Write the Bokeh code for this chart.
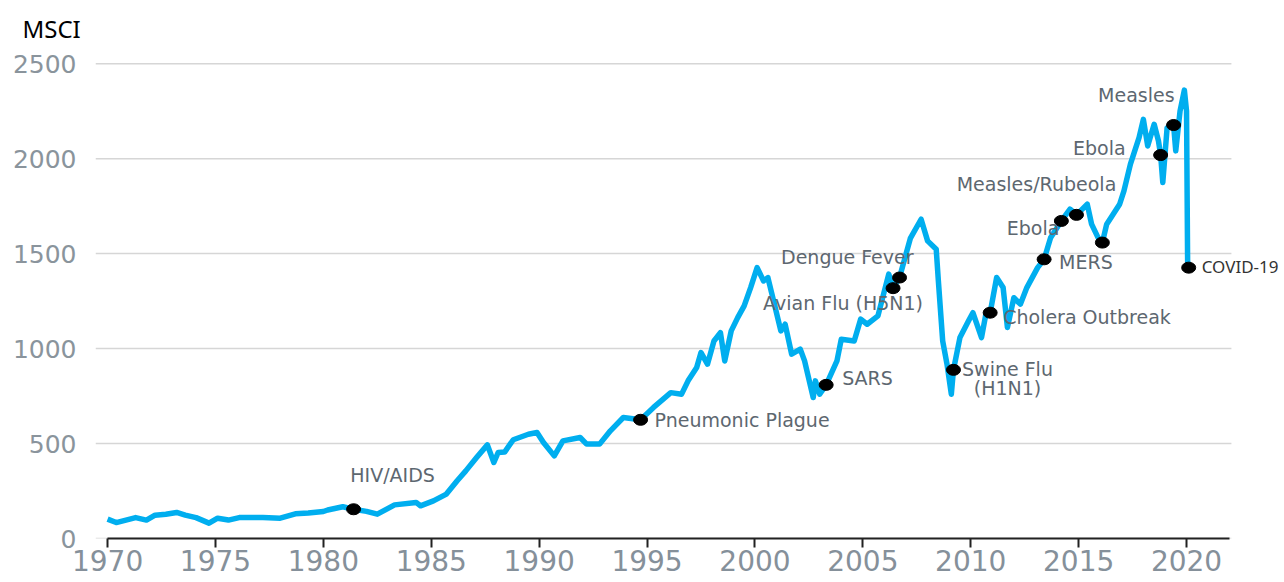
from bokeh.plotting import figure
from bokeh.models import ColumnDataSource, FixedTicker, Range1d
from bokeh.core.properties import value
from bokeh.embed import file_html
from bokeh.resources import INLINE

# ---- data ----
years = [1970.0, 1970.4, 1971.3, 1971.8, 1972.2, 1972.7, 1973.2, 1973.6, 1974.1, 1974.7,
         1975.1, 1975.6, 1976.1, 1977.2, 1978.0, 1978.7, 1979.3, 1980.0, 1980.2, 1980.9,
         1981.4, 1982.0, 1982.5, 1983.3, 1984.3, 1984.5, 1985.1, 1985.7, 1986.2, 1986.6,
         1987.1, 1987.6, 1987.9, 1988.1, 1988.4, 1988.8, 1989.5, 1989.9, 1990.2, 1990.7,
         1991.1, 1991.9, 1992.2, 1992.8, 1993.3, 1993.9, 1994.7, 1995.3, 1996.1, 1996.6,
         1996.9, 1997.3, 1997.5, 1997.8, 1998.1, 1998.4, 1998.6, 1998.9, 1999.2, 1999.5,
         1999.8, 2000.1, 2000.4, 2000.6, 2000.9, 2001.2, 2001.4, 2001.7, 2002.1, 2002.3,
         2002.7, 2002.8, 2003.0, 2003.3, 2003.8, 2004.0, 2004.6, 2004.9, 2005.2, 2005.7,
         2006.2, 2006.4, 2006.7, 2007.2, 2007.7, 2008.0, 2008.4, 2008.5, 2008.7, 2008.9,
         2009.1, 2009.2, 2009.5, 2009.9, 2010.1, 2010.5, 2010.7, 2010.9, 2011.2, 2011.5,
         2011.7, 2012.0, 2012.3, 2012.6, 2013.1, 2013.4, 2013.7, 2014.2, 2014.6, 2014.9,
         2015.4, 2015.6, 2015.9, 2016.1, 2016.3, 2016.6, 2016.9, 2017.1, 2017.4, 2017.8,
         2018.0, 2018.2, 2018.5, 2018.7, 2018.8, 2018.9, 2019.1, 2019.4, 2019.5, 2019.7,
         2019.9, 2020.0, 2020.05, 2020.1]
msci = [102, 84, 110, 97, 123, 128, 137, 123, 110, 81,
        107, 97, 110, 110, 107, 130, 134, 142, 150, 167,
        154, 143, 128, 177, 190, 172, 198, 234, 304, 356,
        426, 493, 400, 453, 455, 520, 549, 558, 505, 435,
        514, 532, 497, 497, 567, 637, 625, 690, 768, 760,
        830, 900, 979, 918, 1040, 1084, 935, 1093, 1163, 1225,
        1321, 1426, 1356, 1374, 1234, 1093, 1128, 971, 997, 935,
        742, 830, 760, 809, 935, 1049, 1040, 1155, 1128, 1172,
        1392, 1318, 1374, 1580, 1681, 1567, 1523, 1356, 1040, 918,
        760, 888, 1058, 1146, 1189, 1058, 1181, 1189, 1374, 1321,
        1111, 1268, 1234, 1321, 1426, 1470, 1584, 1672, 1734, 1704,
        1760, 1655, 1584, 1558, 1655, 1707, 1760, 1830, 1971, 2111,
        2207, 2067, 2181, 2093, 2019, 1874, 2163, 2177, 2041, 2251,
        2361, 2251, 1461, 1426]

event_names = ["HIV/AIDS", "Pneumonic Plague", "SARS", "Avian Flu (H5N1)", "Dengue Fever",
               "Swine Flu\n(H1N1)", "Cholera Outbreak", "MERS", "Ebola", "Measles/Rubeola",
               "", "Ebola", "Measles", "COVID-19"]
event_years = [1981.4, 1994.7, 2003.3, 2006.4, 2006.7, 2009.2, 2010.9, 2013.4, 2014.2, 2014.9,
               2016.1, 2018.8, 2019.4, 2020.1]
event_values = [154, 625, 809, 1318, 1374, 888, 1189, 1470, 1672, 1704,
                1558, 2019, 2177, 1426]

x_ticks = [1970, 1975, 1980, 1985, 1990, 1995, 2000, 2005, 2010, 2015, 2020]
y_ticks = [0, 500, 1000, 1500, 2000, 2500]
y_title = "MSCI"

# ---- label styling: (align, dx px, dy px) per event ----
label_style = [("center", 39, -34), ("left", 14, 0), ("left", 16, -7), ("center", -50, 15),
               ("right", 14, -21), ("center", 54, -1), ("left", 13, 4), ("left", 15, 3),
               ("right", -2, 7), ("center", -40, -31), ("left", 0, 0), ("right", -35, -7),
               ("right", 1, -30), ("left", 13, -1)]

X0, X_GRID_END, X1 = 1969.44, 2022.08, 2024.54

p = figure(width=1284, height=582,
           x_range=Range1d(X0, X1), y_range=Range1d(0, 2580),
           output_backend="svg", toolbar_location=None,
           min_border_left=95, min_border_right=0, min_border_top=48, min_border_bottom=44)
p.outline_line_color = None
p.background_fill_color = "white"
p.border_fill_color = "white"

p.title.text = y_title
p.title.align = "left"
p.title.offset = -73
p.title.standoff = 8
p.title.text_font = "Noto Sans"
p.title.text_font_size = "24px"
p.title.text_font_style = "normal"
p.title.text_color = "black"

# horizontal grid lines, limited to the original plot width
p.xgrid.visible = False
p.ygrid.visible = False
p.segment(x0=[X0] * len(y_ticks), x1=[X_GRID_END] * len(y_ticks), y0=y_ticks, y1=y_ticks,
          line_color="#d6d6d6", line_width=1.5)

xa = p.xaxis[0]
xa.ticker = FixedTicker(ticks=x_ticks)
xa.bounds = (1970, 2022)
xa.axis_line_color = "#222222"
xa.axis_line_width = 2
xa.major_tick_line_color = "#222222"
xa.major_tick_line_width = 2
xa.major_tick_out = 9
xa.major_tick_in = 0
xa.minor_tick_line_color = None
xa.major_label_text_font = "DejaVu Sans"
xa.major_label_text_font_size = "28px"
xa.major_label_text_color = "#85909a"
xa.major_label_standoff = 2

ya = p.yaxis[0]
ya.ticker = FixedTicker(ticks=y_ticks)
ya.axis_line_color = None
ya.major_tick_line_color = None
ya.minor_tick_line_color = None
ya.major_tick_out = 0
ya.major_tick_in = 0
ya.major_label_text_font = "DejaVu Sans"
ya.major_label_text_font_size = "25px"
ya.major_label_text_color = "#8a949c"
ya.major_label_standoff = 19

p.line(years, msci, line_color="#00aeef", line_width=5.5, line_join="round")
p.ellipse(x=event_years, y=event_values, width=14, height=11,
          width_units="screen", height_units="screen", color="black")

# labels
for align in ("left", "right", "center"):
    xs, ys, ts, dxs, dys = [], [], [], [], []
    for i, name in enumerate(event_names):
        if not name or name == "COVID-19":
            continue
        a, dx, dy = label_style[i]
        if a != align:
            continue
        for k, line in enumerate(name.split("\n")):
            xs.append(event_years[i]); ys.append(event_values[i]); ts.append(line)
            dxs.append(dx); dys.append(dy + 19 * k)
    if not xs:
        continue
    src = ColumnDataSource(dict(x=xs, y=ys, text=ts, dx=dxs, dy=dys))
    p.text(x="x", y="y", text="text", x_offset="dx", y_offset="dy", source=src,
           text_align=align, text_baseline="middle",
           text_font=value("DejaVu Sans"), text_font_size="19px", text_color="#5d6770")

ci = event_names.index("COVID-19")
a, dx, dy = label_style[ci]
p.text(x=[event_years[ci]], y=[event_values[ci]], text=[event_names[ci]],
       x_offset=dx, y_offset=dy, text_align=a, text_baseline="middle",
       text_font=value("Noto Sans"), text_font_size="17px", text_color="#333333")

open("out.html", "w").write(file_html(p, INLINE))
